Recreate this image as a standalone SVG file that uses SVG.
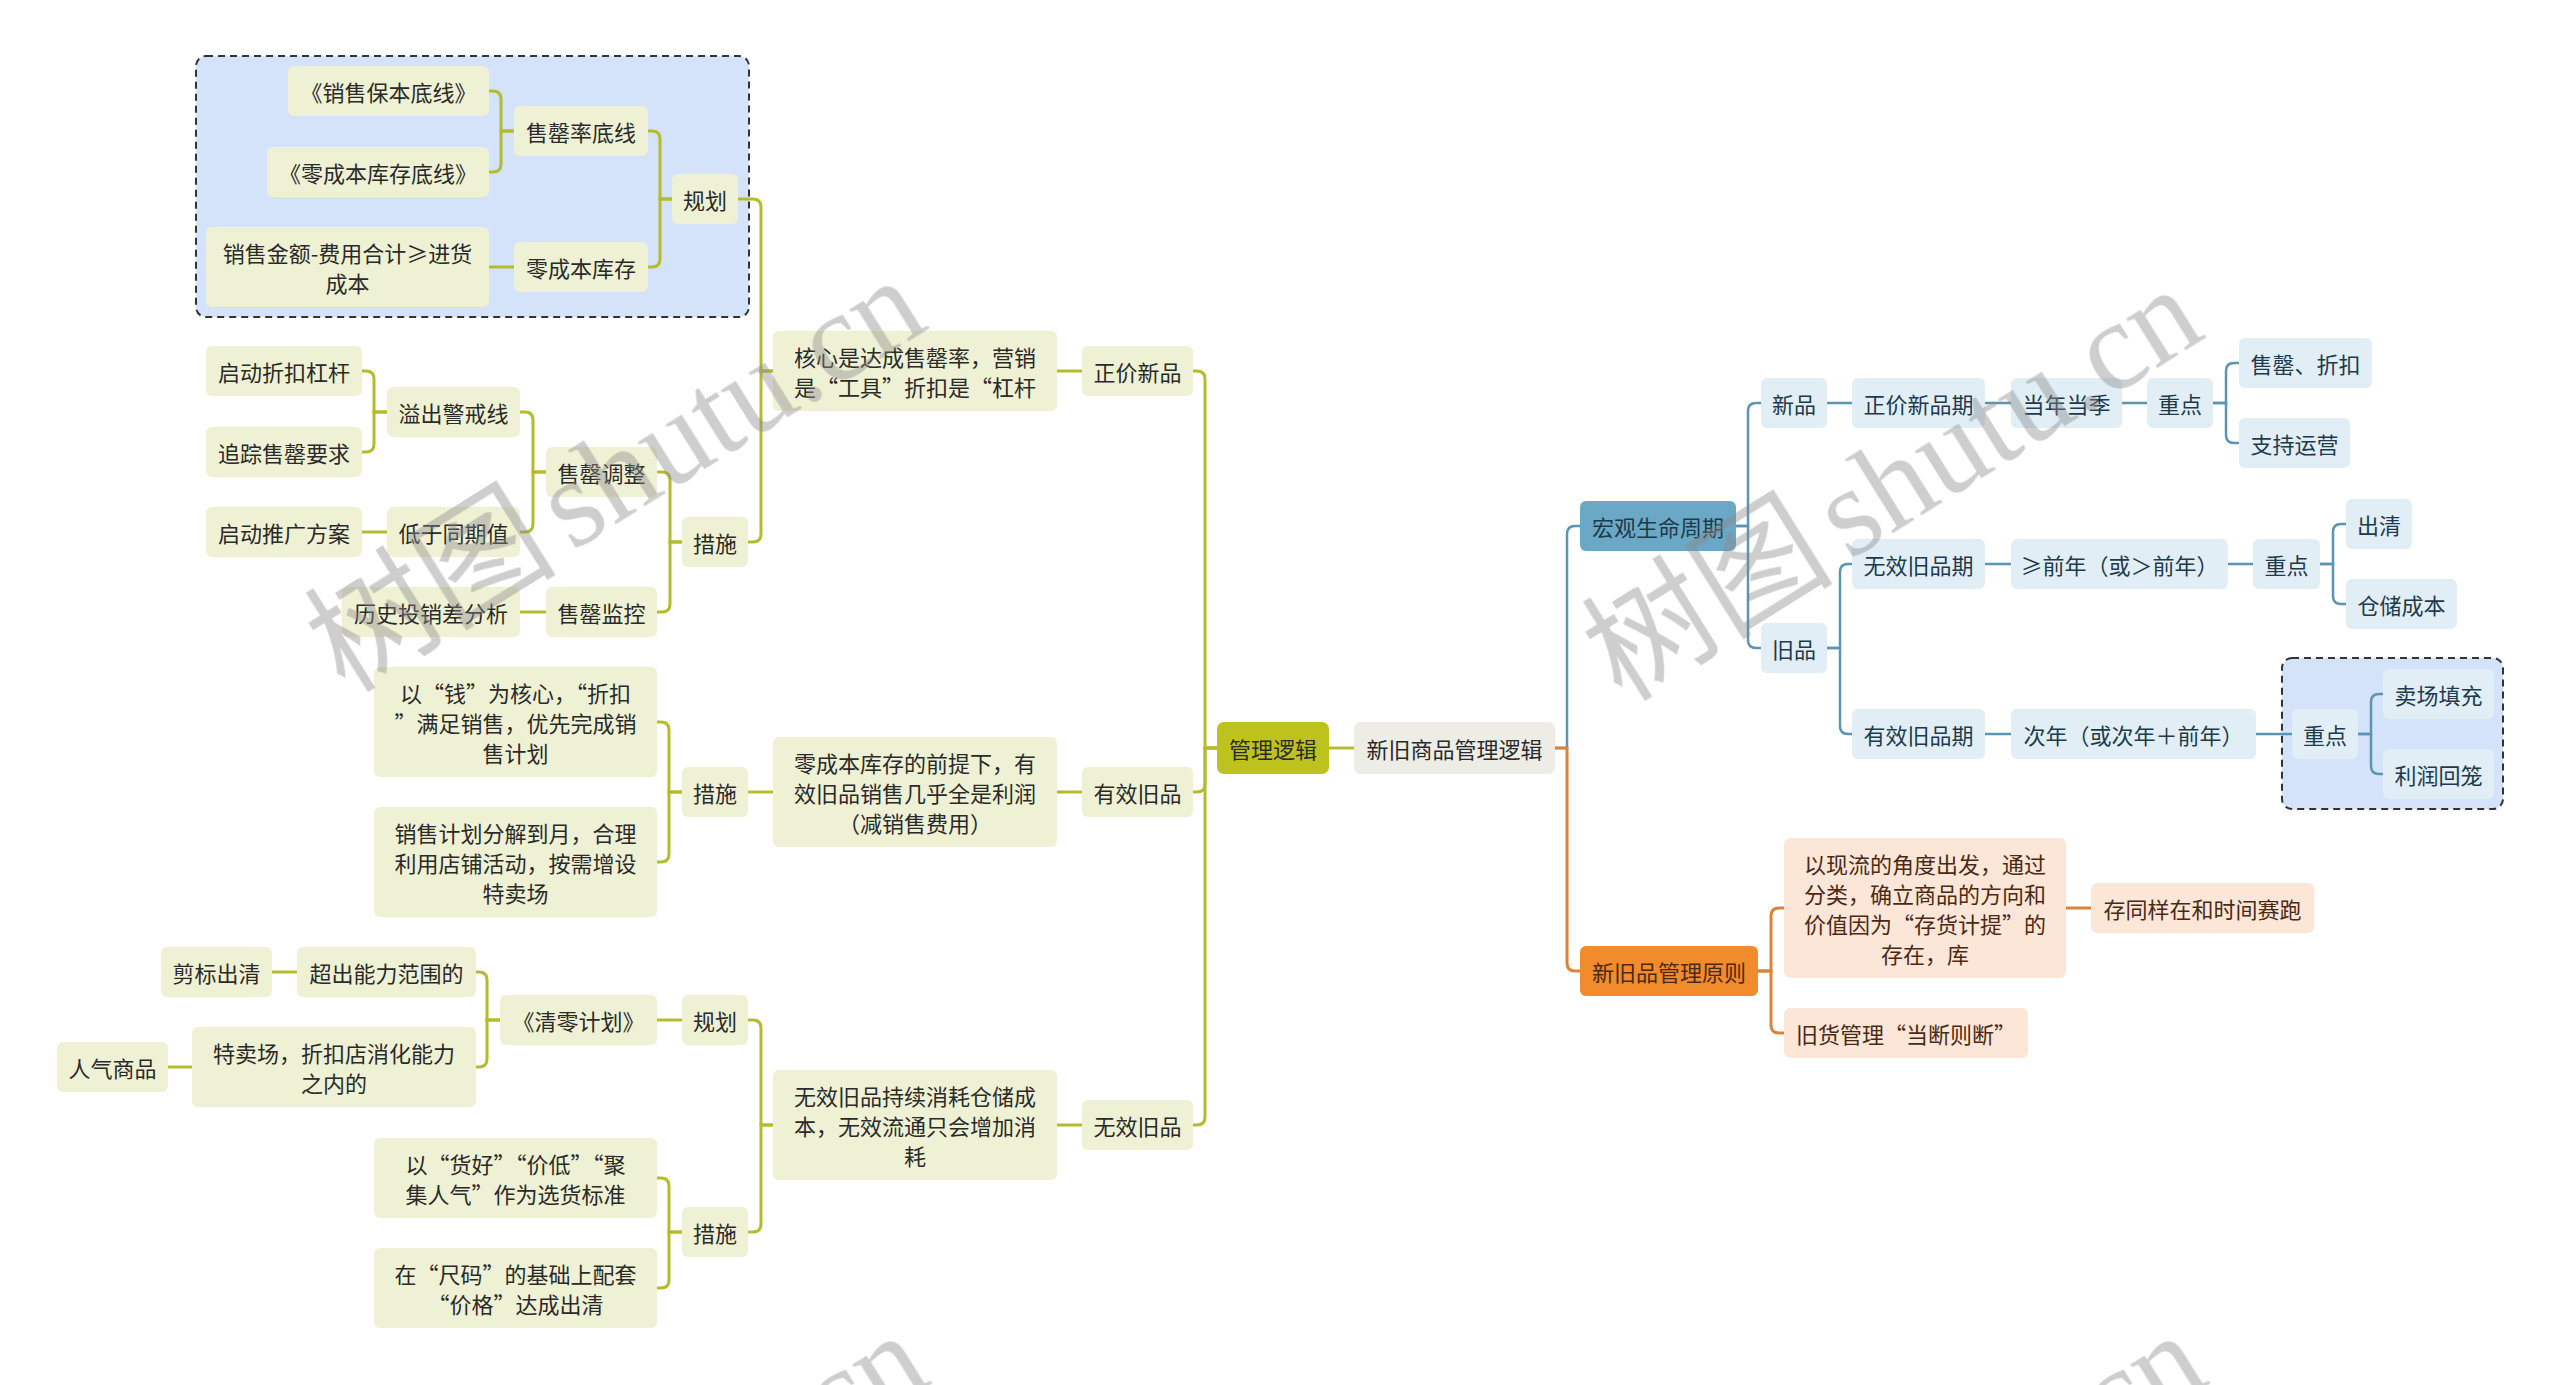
<svg xmlns="http://www.w3.org/2000/svg" width="2560" height="1385" viewBox="0 0 2560 1385">
<style>
.t{font-family:"Noto Sans CJK SC","Noto Sans",sans-serif;font-size:22px;text-anchor:middle;dominant-baseline:central}
.lf{fill:#EFF1D4}.bf{fill:#E1EEF6}.of{fill:#FCE6D7}
.tl{fill:#2A2A2A}.tb{fill:#1E3A4C}.to{fill:#4A2A14}
.c{fill:none;stroke-width:3;stroke-linecap:round}
.cl{stroke:#B4BC2C}.cb{stroke:#5A96B2;stroke-width:2.5}.co{stroke:#D9843A}
.bd{fill:#D5E3FA;stroke:#333;stroke-width:2;stroke-dasharray:7 5}
.wm{font-size:126px;fill:#8a8a8a}
</style>
<rect width="2560" height="1385" fill="#fff"/>
<g id="boundaries">
<rect class="bd" x="196" y="56" width="553" height="261" rx="10"/>
<rect class="bd" x="2282" y="658" width="221" height="151" rx="10"/>
</g>
<g id="connectors">
<g class="c cl">
<path d="M1217 748H1205V379Q1205 371 1197 371H1193"/>
<path d="M1217 748H1205V784Q1205 792 1197 792H1193"/>
<path d="M1217 748H1205V1117Q1205 1125 1197 1125H1193"/>
<path d="M1082 371H1057"/>
<path d="M1082 792H1057"/>
<path d="M1082 1125H1057"/>
<path d="M773 371H761V207Q761 199 753 199H738"/>
<path d="M773 371H761V534Q761 542 753 542H748"/>
<path d="M773 792H748"/>
<path d="M773 1125H761V1028Q761 1020 753 1020H748"/>
<path d="M773 1125H761V1224Q761 1232 753 1232H748"/>
<path d="M672 199H660V139Q660 131 652 131H648"/>
<path d="M672 199H660V259Q660 267 652 267H648"/>
<path d="M514 131H501V99Q501 91 493 91H489"/>
<path d="M514 131H501V164Q501 172 493 172H489"/>
<path d="M514 267H489"/>
<path d="M682 542H670V480Q670 472 662 472H657"/>
<path d="M682 542H670V604Q670 612 662 612H657"/>
<path d="M546 472H533V420Q533 412 525 412H520"/>
<path d="M546 472H533V524Q533 532 525 532H520"/>
<path d="M546 612H520"/>
<path d="M387 412H374V379Q374 371 366 371H362"/>
<path d="M387 412H374V444Q374 452 366 452H362"/>
<path d="M387 532H362"/>
<path d="M682 792H669V730Q669 722 661 722H657"/>
<path d="M682 792H669V854Q669 862 661 862H657"/>
<path d="M682 1020H657"/>
<path d="M500 1020H487V980Q487 972 479 972H476"/>
<path d="M500 1020H487V1059Q487 1067 479 1067H476"/>
<path d="M297 972H272"/>
<path d="M192 1067H168"/>
<path d="M682 1232H669V1186Q669 1178 661 1178H657"/>
<path d="M682 1232H669V1280Q669 1288 661 1288H657"/>
<path d="M1329 748H1354"/>
</g>
<g class="c cb">
<path d="M1555 748H1567V534Q1567 526 1575 526H1580"/>
<path d="M1736 526H1748V411Q1748 403 1756 403H1761"/>
<path d="M1736 526H1748V640Q1748 648 1756 648H1761"/>
<path d="M1827 403H1852"/>
<path d="M1985 403H2011"/>
<path d="M2122 403H2147"/>
<path d="M2213 403H2226V371Q2226 363 2234 363H2239"/>
<path d="M2213 403H2226V435Q2226 443 2234 443H2239"/>
<path d="M1827 648H1840V572Q1840 564 1848 564H1852"/>
<path d="M1827 648H1840V726Q1840 734 1848 734H1852"/>
<path d="M1985 564H2011"/>
<path d="M2228 564H2253"/>
<path d="M2320 564H2333V532Q2333 524 2341 524H2346"/>
<path d="M2320 564H2333V596Q2333 604 2341 604H2346"/>
<path d="M1985 734H2011"/>
<path d="M2256 734H2292"/>
<path d="M2358 734H2371V702Q2371 694 2379 694H2383"/>
<path d="M2358 734H2371V766Q2371 774 2379 774H2383"/>
</g>
<g class="c co">
<path d="M1555 748H1567V963Q1567 971 1575 971H1580"/>
<path d="M1758 971H1771V916Q1771 908 1779 908H1784"/>
<path d="M1758 971H1771V1025Q1771 1033 1779 1033H1784"/>
<path d="M2066 908H2091"/>
</g>
</g>
<g id="n-center"><rect x="1354" y="722" width="201" height="52" rx="7" fill="#EDEDE6"/><text class="t tl" x="1454.5" y="748">新旧商品管理逻辑</text></g>
<g id="n-root"><rect x="1217" y="722" width="112" height="52" rx="7" fill="#BDC21D"/><text class="t tl" x="1273" y="748">管理逻辑</text></g>
<g id="n-zjxp"><rect class="lf" x="1082" y="346" width="111" height="50" rx="6"/><text class="t tl" x="1137.5" y="371">正价新品</text></g>
<g id="n-yxjp"><rect class="lf" x="1082" y="767" width="111" height="50" rx="6"/><text class="t tl" x="1137.5" y="792">有效旧品</text></g>
<g id="n-wxjp"><rect class="lf" x="1082" y="1100" width="111" height="50" rx="6"/><text class="t tl" x="1137.5" y="1125">无效旧品</text></g>
<g id="n-hx"><rect class="lf" x="773" y="331" width="284" height="80" rx="6"/><text class="t tl"><tspan x="915" y="356">核心是达成售罄率，营销</tspan><tspan x="915" y="386">是“工具”折扣是“杠杆</tspan></text></g>
<g id="n-lcbqt"><rect class="lf" x="773" y="737" width="284" height="110" rx="6"/><text class="t tl"><tspan x="915" y="762">零成本库存的前提下，有</tspan><tspan x="915" y="792">效旧品销售几乎全是利润</tspan><tspan x="915" y="822">（减销售费用）</tspan></text></g>
<g id="n-wxcx"><rect class="lf" x="773" y="1070" width="284" height="110" rx="6"/><text class="t tl"><tspan x="915" y="1095">无效旧品持续消耗仓储成</tspan><tspan x="915" y="1125">本，无效流通只会增加消</tspan><tspan x="915" y="1155">耗</tspan></text></g>
<g id="n-gh1"><rect class="lf" x="672" y="174" width="66" height="50" rx="6"/><text class="t tl" x="705" y="199">规划</text></g>
<g id="n-cs1"><rect class="lf" x="682" y="517" width="66" height="50" rx="6"/><text class="t tl" x="715" y="542">措施</text></g>
<g id="n-cs2"><rect class="lf" x="682" y="767" width="66" height="50" rx="6"/><text class="t tl" x="715" y="792">措施</text></g>
<g id="n-gh2"><rect class="lf" x="682" y="995" width="66" height="50" rx="6"/><text class="t tl" x="715" y="1020">规划</text></g>
<g id="n-cs3"><rect class="lf" x="682" y="1207" width="66" height="50" rx="6"/><text class="t tl" x="715" y="1232">措施</text></g>
<g id="n-sqldx"><rect class="lf" x="514" y="106" width="134" height="50" rx="6"/><text class="t tl" x="581" y="131">售罄率底线</text></g>
<g id="n-lcbkc"><rect class="lf" x="514" y="242" width="134" height="50" rx="6"/><text class="t tl" x="581" y="267">零成本库存</text></g>
<g id="n-xsbb"><rect class="lf" x="288" y="66" width="201" height="50" rx="6"/><text class="t tl" x="388.5" y="91">《销售保本底线》</text></g>
<g id="n-lcbdx"><rect class="lf" x="267" y="147" width="222" height="50" rx="6"/><text class="t tl" x="378" y="172">《零成本库存底线》</text></g>
<g id="n-xsje"><rect class="lf" x="206" y="227" width="283" height="80" rx="6"/><text class="t tl"><tspan x="347.5" y="252">销售金额-费用合计≥进货</tspan><tspan x="347.5" y="282">成本</tspan></text></g>
<g id="n-sqtz"><rect class="lf" x="546" y="447" width="111" height="50" rx="6"/><text class="t tl" x="601.5" y="472">售罄调整</text></g>
<g id="n-sqjk"><rect class="lf" x="546" y="587" width="111" height="50" rx="6"/><text class="t tl" x="601.5" y="612">售罄监控</text></g>
<g id="n-yc"><rect class="lf" x="387" y="387" width="133" height="50" rx="6"/><text class="t tl" x="453.5" y="412">溢出警戒线</text></g>
<g id="n-dy"><rect class="lf" x="387" y="507" width="133" height="50" rx="6"/><text class="t tl" x="453.5" y="532">低于同期值</text></g>
<g id="n-qd1"><rect class="lf" x="206" y="346" width="156" height="50" rx="6"/><text class="t tl" x="284" y="371">启动折扣杠杆</text></g>
<g id="n-zz"><rect class="lf" x="206" y="427" width="156" height="50" rx="6"/><text class="t tl" x="284" y="452">追踪售罄要求</text></g>
<g id="n-qd2"><rect class="lf" x="206" y="507" width="156" height="50" rx="6"/><text class="t tl" x="284" y="532">启动推广方案</text></g>
<g id="n-ls"><rect class="lf" x="342" y="587" width="178" height="50" rx="6"/><text class="t tl" x="431" y="612">历史投销差分析</text></g>
<g id="n-yq"><rect class="lf" x="374" y="667" width="283" height="110" rx="6"/><text class="t tl"><tspan x="515.5" y="692">以“钱”为核心，“折扣</tspan><tspan x="515.5" y="722">”满足销售，优先完成销</tspan><tspan x="515.5" y="752">售计划</tspan></text></g>
<g id="n-xsjh"><rect class="lf" x="374" y="807" width="283" height="110" rx="6"/><text class="t tl"><tspan x="515.5" y="832">销售计划分解到月，合理</tspan><tspan x="515.5" y="862">利用店铺活动，按需增设</tspan><tspan x="515.5" y="892">特卖场</tspan></text></g>
<g id="n-ql"><rect class="lf" x="500" y="995" width="157" height="50" rx="6"/><text class="t tl" x="578.5" y="1020">《清零计划》</text></g>
<g id="n-cc"><rect class="lf" x="297" y="947" width="179" height="50" rx="6"/><text class="t tl" x="386.5" y="972">超出能力范围的</text></g>
<g id="n-tmc"><rect class="lf" x="192" y="1027" width="284" height="80" rx="6"/><text class="t tl"><tspan x="334" y="1052">特卖场，折扣店消化能力</tspan><tspan x="334" y="1082">之内的</tspan></text></g>
<g id="n-jb"><rect class="lf" x="161" y="947" width="111" height="50" rx="6"/><text class="t tl" x="216.5" y="972">剪标出清</text></g>
<g id="n-rq"><rect class="lf" x="57" y="1042" width="111" height="50" rx="6"/><text class="t tl" x="112.5" y="1067">人气商品</text></g>
<g id="n-hh"><rect class="lf" x="374" y="1138" width="283" height="80" rx="6"/><text class="t tl"><tspan x="515.5" y="1163">以“货好”“价低”“聚</tspan><tspan x="515.5" y="1193">集人气”作为选货标准</tspan></text></g>
<g id="n-cm"><rect class="lf" x="374" y="1248" width="283" height="80" rx="6"/><text class="t tl"><tspan x="515.5" y="1273">在“尺码”的基础上配套</tspan><tspan x="515.5" y="1303">“价格”达成出清</tspan></text></g>
<g id="n-hg"><rect x="1580" y="501" width="156" height="50" rx="6" fill="#6AA8C6"/><text class="t tb" x="1658" y="526">宏观生命周期</text></g>
<g id="n-xp"><rect class="bf" x="1761" y="378" width="66" height="50" rx="6"/><text class="t tb" x="1794" y="403">新品</text></g>
<g id="n-zjxpq"><rect class="bf" x="1852" y="378" width="133" height="50" rx="6"/><text class="t tb" x="1918.5" y="403">正价新品期</text></g>
<g id="n-dn"><rect class="bf" x="2011" y="378" width="111" height="50" rx="6"/><text class="t tb" x="2066.5" y="403">当年当季</text></g>
<g id="n-zd1"><rect class="bf" x="2147" y="378" width="66" height="50" rx="6"/><text class="t tb" x="2180" y="403">重点</text></g>
<g id="n-sq"><rect class="bf" x="2239" y="338" width="133" height="50" rx="6"/><text class="t tb" x="2305.5" y="363">售罄、折扣</text></g>
<g id="n-zc"><rect class="bf" x="2239" y="418" width="111" height="50" rx="6"/><text class="t tb" x="2294.5" y="443">支持运营</text></g>
<g id="n-jp"><rect class="bf" x="1761" y="623" width="66" height="50" rx="6"/><text class="t tb" x="1794" y="648">旧品</text></g>
<g id="n-wxq"><rect class="bf" x="1852" y="539" width="133" height="50" rx="6"/><text class="t tb" x="1918.5" y="564">无效旧品期</text></g>
<g id="n-qn"><rect class="bf" x="2011" y="539" width="217" height="50" rx="6"/><text class="t tb" x="2119.5" y="564">≥前年（或＞前年）</text></g>
<g id="n-zd2"><rect class="bf" x="2253" y="539" width="67" height="50" rx="6"/><text class="t tb" x="2286.5" y="564">重点</text></g>
<g id="n-qc"><rect class="bf" x="2346" y="499" width="66" height="50" rx="6"/><text class="t tb" x="2379" y="524">出清</text></g>
<g id="n-cccb"><rect class="bf" x="2346" y="579" width="111" height="50" rx="6"/><text class="t tb" x="2401.5" y="604">仓储成本</text></g>
<g id="n-yxq"><rect class="bf" x="1852" y="709" width="133" height="50" rx="6"/><text class="t tb" x="1918.5" y="734">有效旧品期</text></g>
<g id="n-cn"><rect class="bf" x="2011" y="709" width="245" height="50" rx="6"/><text class="t tb" x="2133.5" y="734">次年（或次年＋前年）</text></g>
<g id="n-zd3"><rect class="bf" x="2292" y="709" width="66" height="50" rx="6"/><text class="t tb" x="2325" y="734">重点</text></g>
<g id="n-mc"><rect class="bf" x="2383" y="669" width="111" height="50" rx="6"/><text class="t tb" x="2438.5" y="694">卖场填充</text></g>
<g id="n-lr"><rect class="bf" x="2383" y="749" width="111" height="50" rx="6"/><text class="t tb" x="2438.5" y="774">利润回笼</text></g>
<g id="n-yz"><rect x="1580" y="946" width="178" height="50" rx="6" fill="#F18B2C"/><text class="t to" x="1669" y="971">新旧品管理原则</text></g>
<g id="n-xl"><rect class="of" x="1784" y="838" width="282" height="140" rx="6"/><text class="t to"><tspan x="1925" y="863">以现流的角度出发，通过</tspan><tspan x="1925" y="893">分类，确立商品的方向和</tspan><tspan x="1925" y="923">价值因为“存货计提”的</tspan><tspan x="1925" y="953">存在，库</tspan></text></g>
<g id="n-cty"><rect class="of" x="2091" y="883" width="223" height="50" rx="6"/><text class="t to" x="2202.5" y="908">存同样在和时间赛跑</text></g>
<g id="n-jh"><rect class="of" x="1784" y="1008" width="244" height="50" rx="6"/><text class="t to" x="1906" y="1033">旧货管理“当断则断”</text></g>
<g id="watermark" opacity="0.42">
<text class="wm" transform="translate(345 694) rotate(-32)"><tspan font-family="Noto Sans CJK SC,sans-serif">树图</tspan><tspan font-family="Liberation Serif,serif" dx="16">shutu.cn</tspan></text>
<text class="wm" transform="translate(1622 703) rotate(-32)"><tspan font-family="Noto Sans CJK SC,sans-serif">树图</tspan><tspan font-family="Liberation Serif,serif" dx="16">shutu.cn</tspan></text>
<text class="wm" transform="translate(348 1749) rotate(-32)"><tspan font-family="Noto Sans CJK SC,sans-serif">树图</tspan><tspan font-family="Liberation Serif,serif" dx="16">shutu.cn</tspan></text>
<text class="wm" transform="translate(1626 1749) rotate(-32)"><tspan font-family="Noto Sans CJK SC,sans-serif">树图</tspan><tspan font-family="Liberation Serif,serif" dx="16">shutu.cn</tspan></text>
</g>
</svg>
